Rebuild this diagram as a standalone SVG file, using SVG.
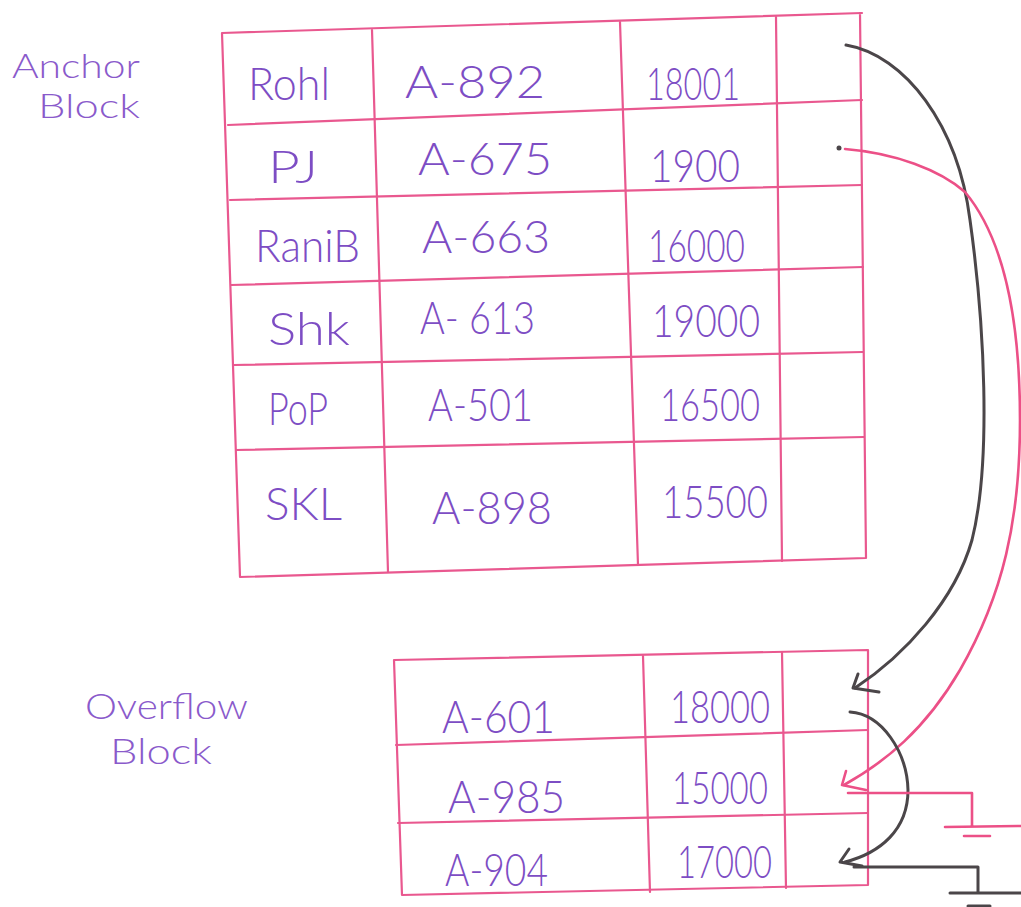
<svg xmlns="http://www.w3.org/2000/svg" width="1021" height="907" viewBox="0 0 1021 907">
<style>
.grid{stroke:#e9588f;stroke-width:2.2;fill:none;stroke-linecap:round}
.t{font-family:"Lato","Liberation Sans",Arial,sans-serif;font-weight:300;font-size:45px;fill:#7d4dc4}
.lbl{font-family:"Lato","Liberation Sans",Arial,sans-serif;font-weight:300;font-size:33px;fill:#8a5acb}
.lbl2{font-family:"Lato","Liberation Sans",Arial,sans-serif;font-weight:300;font-size:36px;fill:#8a5acb}
.blk{stroke:#4b4649;stroke-width:3;fill:none;stroke-linecap:round;stroke-linejoin:round}
.pnk{stroke:#ec5087;stroke-width:2.6;fill:none;stroke-linecap:round;stroke-linejoin:round}
</style>
<rect width="1021" height="907" fill="#ffffff"/>
<g id="anchor-label">
<text class="lbl" x="12" y="78" textLength="128" lengthAdjust="spacingAndGlyphs">Anchor</text>
<text class="lbl" x="38" y="118" textLength="102" lengthAdjust="spacingAndGlyphs">Block</text>
</g>
<g id="overflow-label">
<text class="lbl2" x="85" y="719" textLength="163" lengthAdjust="spacingAndGlyphs">Overflow</text>
<text class="lbl2" x="110" y="764" textLength="102" lengthAdjust="spacingAndGlyphs">Block</text>
</g>
<g id="anchor-block">
<path class="grid" d="M222,33 L862,13 M222,33 L240,577 M860,13 L866,558 M240,577 L866,558"/>
<path class="grid" d="M228,125 L862,100 M230,200 L862,185 M231,285 L863,267 M234,365 L863,352 M236,450 L864,437"/>
<path class="grid" d="M372,30 L388,572 M620,22 L638,565 M776,17 L782,561"/>
<text class="t" x="248" y="100" textLength="82" lengthAdjust="spacingAndGlyphs">Rohl</text>
<text class="t" x="405" y="98" textLength="140" lengthAdjust="spacingAndGlyphs">A-892</text>
<text class="t" x="646" y="100" textLength="94" lengthAdjust="spacingAndGlyphs">18001</text>
<text class="t" x="268" y="183" textLength="50" lengthAdjust="spacingAndGlyphs">PJ</text>
<text class="t" x="418" y="175" textLength="134" lengthAdjust="spacingAndGlyphs">A-675</text>
<text class="t" x="650" y="182" textLength="90" lengthAdjust="spacingAndGlyphs">1900</text>
<text class="t" x="255" y="262" textLength="105" lengthAdjust="spacingAndGlyphs">RaniB</text>
<text class="t" x="422" y="253" textLength="128" lengthAdjust="spacingAndGlyphs">A-663</text>
<text class="t" x="648" y="262" textLength="97" lengthAdjust="spacingAndGlyphs">16000</text>
<text class="t" x="268" y="345" textLength="82" lengthAdjust="spacingAndGlyphs">Shk</text>
<text class="t" x="420" y="334" textLength="115" lengthAdjust="spacingAndGlyphs">A- 613</text>
<text class="t" x="652" y="337" textLength="108" lengthAdjust="spacingAndGlyphs">19000</text>
<text class="t" x="268" y="425" textLength="60" lengthAdjust="spacingAndGlyphs">PoP</text>
<text class="t" x="428" y="421" textLength="105" lengthAdjust="spacingAndGlyphs">A-501</text>
<text class="t" x="660" y="421" textLength="100" lengthAdjust="spacingAndGlyphs">16500</text>
<text class="t" x="265" y="520" textLength="77" lengthAdjust="spacingAndGlyphs">SKL</text>
<text class="t" x="432" y="524" textLength="120" lengthAdjust="spacingAndGlyphs">A-898</text>
<text class="t" x="662" y="518" textLength="106" lengthAdjust="spacingAndGlyphs">15500</text>
</g>
<g id="overflow-block">
<path class="grid" d="M394,660 L868,650 M394,660 L402,895 M868,650 L868,885 M402,895 L868,885"/>
<path class="grid" d="M396,745 L868,730 M398,823 L868,813"/>
<path class="grid" d="M643,656 L650,892 M782,652 L786,888"/>
<text class="t" x="442" y="733" textLength="113" lengthAdjust="spacingAndGlyphs">A-601</text>
<text class="t" x="670" y="723" textLength="100" lengthAdjust="spacingAndGlyphs">18000</text>
<text class="t" x="448" y="813" textLength="117" lengthAdjust="spacingAndGlyphs">A-985</text>
<text class="t" x="672" y="804" textLength="96" lengthAdjust="spacingAndGlyphs">15000</text>
<text class="t" x="445" y="886" textLength="103" lengthAdjust="spacingAndGlyphs">A-904</text>
<text class="t" x="677" y="878" textLength="95" lengthAdjust="spacingAndGlyphs">17000</text>
</g>
<g id="connectors">
<path class="blk" d="M846,45 C905,55 958,125 970,220 C984,320 992,460 972,540 C955,600 905,655 855,688"/>
<path class="blk" d="M858,674 L853,688 L879,692"/>
<circle cx="839" cy="148" r="2.5" fill="#4b4649"/>
<path class="pnk" d="M845,149 C895,153 940,170 965,192 C1005,240 1020,320 1020,420 C1020,520 1003,595 960,670 C925,730 885,762 844,785"/>
<path class="pnk" d="M846,771 L842,785 L866,790"/>
<path class="blk" d="M850,712 C882,714 907,752 908,790 C908,830 880,853 845,862"/>
<path class="blk" d="M849,849 L840,862 L862,866"/>
<path class="pnk" d="M848,793 L972,793 L972,826 M945,827 L1021,826 M964,836 L990,836"/>
<path class="blk" d="M854,867 L978,867 L978,893 M950,893 L1021,893 M968,906 L990,906"/>
</g>
</svg>
